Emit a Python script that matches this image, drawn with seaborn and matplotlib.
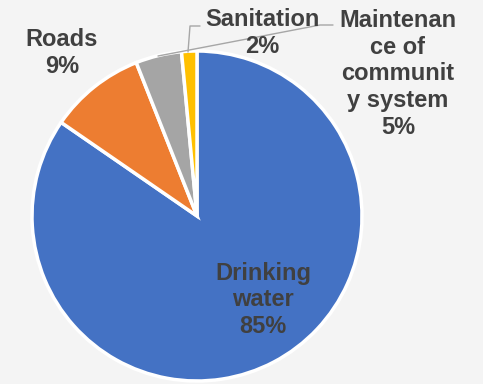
import matplotlib
matplotlib.use("Agg")
import matplotlib.pyplot as plt
import seaborn as sns

# data (shares)
categories = ["Drinking water", "Roads", "Maintenance of community system", "Sanitation"]
shares = [84.6, 9.4, 4.5, 1.5]
pct_labels = ["85%", "9%", "5%", "2%"]
colors = ["#4472C4", "#ED7D31", "#A5A5A5", "#FFC000"]

sns.set_style("white")
plt.rcParams['font.family'] = ['Liberation Sans', 'DejaVu Sans']

bg = "#f4f4f4"
fig = plt.figure(figsize=(4.83, 3.84), dpi=100, facecolor=bg)
ax = fig.add_axes([0, 0, 1, 1])
ax.set_facecolor(bg)

ax.pie(shares, colors=colors, startangle=90, counterclock=False,
       center=(197, 168), radius=165,
       wedgeprops=dict(edgecolor="white", linewidth=2.5))

# pie resets the limits, so set pixel-like limits afterwards
ax.set_xlim(0, 483)
ax.set_ylim(0, 384)
ax.set_aspect("equal")
ax.axis("off")

txt = dict(fontsize=17, fontweight="bold", color="#404040",
           ha="center", va="center", linespacing=1.2)
ax.text(263, 84, "Drinking\nwater\n" + pct_labels[0], **txt)
ax.text(62, 331, "Roads\n" + pct_labels[1], **txt)
ax.text(398, 310, "Maintenan\nce of\ncommunit\ny system\n" + pct_labels[2], **txt)
ax.text(262, 351, "Sanitation\n" + pct_labels[3], **txt)

# leader lines
ax.plot([200, 190, 188], [358, 358, 332], color="#A6A6A6", lw=1)
ax.plot([333, 320, 158], [359, 359, 328], color="#A6A6A6", lw=1)

fig.savefig("out.png", dpi=100, facecolor=bg)
